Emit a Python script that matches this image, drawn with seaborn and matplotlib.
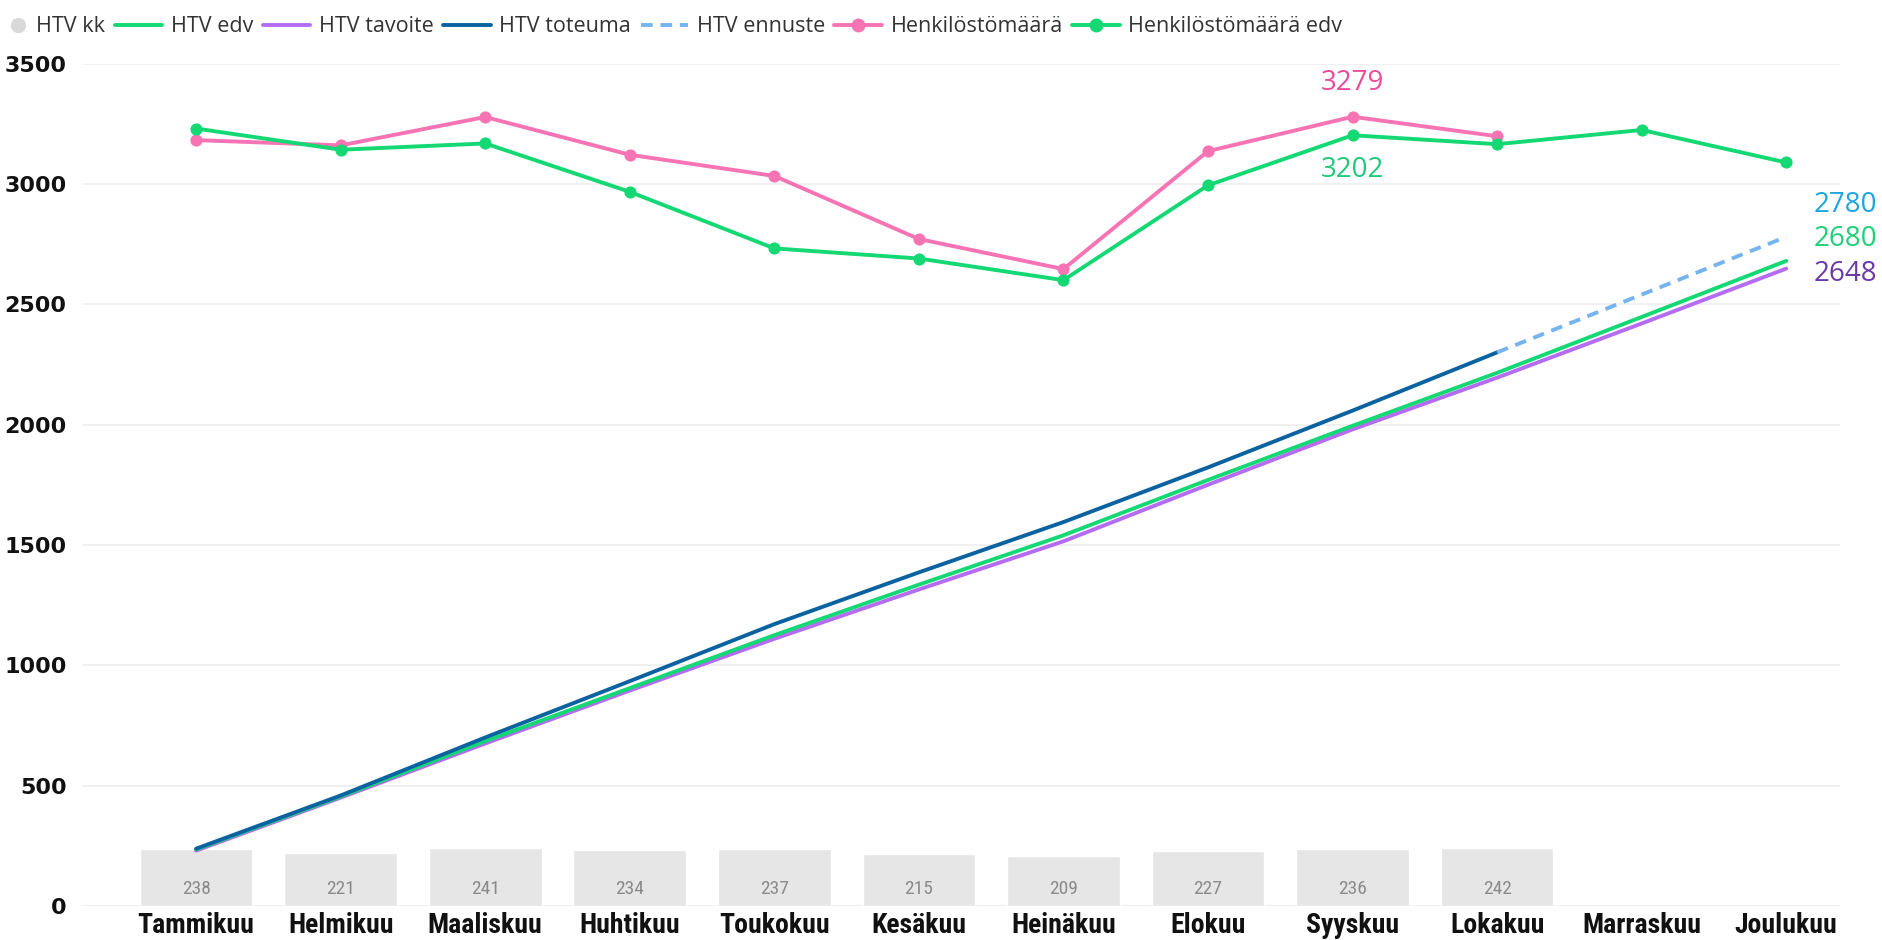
import matplotlib
matplotlib.use("Agg")
import matplotlib.pyplot as plt
from matplotlib.lines import Line2D
from matplotlib.legend_handler import HandlerBase
import seaborn as sns
import pandas as pd
import numpy as np

# --- data ---
months = ['Tammikuu', 'Helmikuu', 'Maaliskuu', 'Huhtikuu', 'Toukokuu', 'Kesäkuu',
          'Heinäkuu', 'Elokuu', 'Syyskuu', 'Lokakuu', 'Marraskuu', 'Joulukuu']
htv_kk = [238, 221, 241, 234, 237, 215, 209, 227, 236, 242]
htv_edv = [235, 455, 685, 905, 1125, 1335, 1540, 1770, 1995, 2215, 2447, 2680]
htv_tavoite = [230, 450, 675, 895, 1110, 1315, 1515, 1750, 1980, 2195, 2420, 2648]
htv_toteuma = [238, 459, 700, 934, 1171, 1386, 1595, 1822, 2058, 2300, np.nan, np.nan]
htv_ennuste = [np.nan] * 9 + [2300, 2540, 2780]
henk = [3182, 3160, 3278, 3121, 3033, 2771, 2646, 3136, 3279, 3198, np.nan, np.nan]
henk_edv = [3230, 3142, 3168, 2967, 2732, 2690, 2600, 2994, 3202, 3165, 3224, 3089]

C_BAR = '#e6e6e6'
C_GREEN = '#14d873'
C_PURPLE = '#b46cf2'
C_BLUE = '#0b62a0'
C_DASH = '#76b4ef'
C_PINK = '#f674b4'

NARROW = ['Roboto Condensed', 'Liberation Sans Narrow', 'DejaVu Sans']

sns.set_style('white')
plt.rcParams['font.family'] = ['Open Sans', 'DejaVu Sans']


class DotRight(HandlerBase):
    # legend dot drawn just before the label, like the reference
    def create_artists(self, legend, orig, xdescent, ydescent, width, height,
                       fontsize, trans):
        dot = Line2D([width - xdescent - 7], [height / 2 - ydescent], ls='none',
                     marker='o', ms=10, color='#d9d9d9', transform=trans)
        return [dot]


fig = plt.figure(figsize=(18.83, 9.4), dpi=100)
ax = fig.add_axes([0.0435, 0.0362, 0.9335, 0.8962])

df = pd.DataFrame({
    'idx': np.arange(12),
    'month': months,
    'edv': htv_edv,
    'tavoite': htv_tavoite,
    'toteuma': htv_toteuma,
    'ennuste': htv_ennuste,
    'henk': henk,
    'henk_edv': henk_edv,
})
bars = pd.DataFrame({'month': months[:len(htv_kk)], 'kk': htv_kk})

sns.barplot(data=bars, x='month', y='kk', order=months, color=C_BAR,
            saturation=1, width=0.78, ax=ax, zorder=1)
for i, v in enumerate(htv_kk):
    ax.text(i, 70, str(v), ha='center', va='center', fontsize=14, color='#8a8a8a',
            family=NARROW, fontstretch='condensed')

lw = 2.8
sns.lineplot(data=df, x='idx', y='tavoite', color=C_PURPLE, lw=lw, ax=ax, zorder=3)
sns.lineplot(data=df, x='idx', y='edv', color=C_GREEN, lw=lw, ax=ax, zorder=3)
sns.lineplot(data=df, x='idx', y='toteuma', color=C_BLUE, lw=lw, ax=ax, zorder=4)
sns.lineplot(data=df, x='idx', y='ennuste', color=C_DASH, lw=lw, ax=ax, zorder=4,
             linestyle=(0, (3, 2)))
sns.lineplot(data=df, x='idx', y='henk', color=C_PINK, lw=lw, marker='o', ms=8,
             mec=C_PINK, ax=ax, zorder=5)
sns.lineplot(data=df, x='idx', y='henk_edv', color=C_GREEN, lw=lw, marker='o', ms=8,
             mec=C_GREEN, ax=ax, zorder=5)

# data labels
lab_font = dict(fontsize=20, family=['Open Sans', 'DejaVu Sans'])
ax.annotate(f'{henk[8]:.0f}', (8, henk[8]), xytext=(0, 24), textcoords='offset points',
            ha='center', va='center', color='#ee4a9c', **lab_font)
ax.annotate(f'{henk_edv[8]:.0f}', (8, henk_edv[8]), xytext=(0, -25), textcoords='offset points',
            ha='center', va='center', color='#22c87c', **lab_font)
ax.annotate(f'{htv_ennuste[-1]:.0f}', (11, htv_ennuste[-1]), xytext=(20, 23),
            textcoords='offset points', ha='left', va='center', color='#1ea4df',
            annotation_clip=False, **lab_font)
ax.annotate(f'{htv_edv[-1]:.0f}', (11, htv_edv[-1]), xytext=(20, 16),
            textcoords='offset points', ha='left', va='center', color='#1fcf78',
            annotation_clip=False, **lab_font)
ax.annotate(f'{htv_tavoite[-1]:.0f}', (11, htv_tavoite[-1]), xytext=(20, -4),
            textcoords='offset points', ha='left', va='center', color='#6b3aa6',
            annotation_clip=False, **lab_font)

ax.set_xlim(-0.79, 11.37)
ax.set_ylim(0, 3500)
ax.set_yticks(range(0, 3501, 500))
ax.set_xticks(range(12))
ax.set_xticklabels(months, fontsize=20, fontweight='bold', color='#111111',
                   family=NARROW, fontstretch='condensed')
for t in ax.get_yticklabels():
    t.set_fontsize(16)
    t.set_fontweight('bold')
    t.set_family('DejaVu Sans')
    t.set_color('#111111')
ax.set_xlabel('')
ax.set_ylabel('')
ax.tick_params(axis='both', length=0)
ax.tick_params(axis='y', pad=11)
ax.tick_params(axis='x', pad=4)
ax.grid(axis='y', color='#eeeeee', lw=1.2, zorder=0)
ax.set_axisbelow(True)
for s in ax.spines.values():
    s.set_visible(False)

kk_handle = Line2D([], [], ls='none', marker='o', color='#d9d9d9')
handles = [
    kk_handle,
    Line2D([], [], color=C_GREEN, lw=2.8),
    Line2D([], [], color=C_PURPLE, lw=2.8),
    Line2D([], [], color=C_BLUE, lw=2.8),
    Line2D([], [], color=C_DASH, lw=2.8, ls=(0, (3, 2))),
    Line2D([], [], color=C_PINK, lw=2.8, marker='o', ms=9),
    Line2D([], [], color=C_GREEN, lw=2.8, marker='o', ms=9),
]
labels = ['HTV kk', 'HTV edv', 'HTV tavoite', 'HTV toteuma', 'HTV ennuste',
          'Henkilöstömäärä', 'Henkilöstömäärä edv']
fig.legend(handles, labels, loc='center left', bbox_to_anchor=(-0.0106, 1 - 27 / 940),
           ncol=7, frameon=False, fontsize=15.5, handlelength=2.2, handletextpad=0.4,
           columnspacing=0.45, borderpad=0, borderaxespad=0, labelcolor='#333333',
           handler_map={kk_handle: DotRight()})

fig.savefig('out.png', dpi=100)
